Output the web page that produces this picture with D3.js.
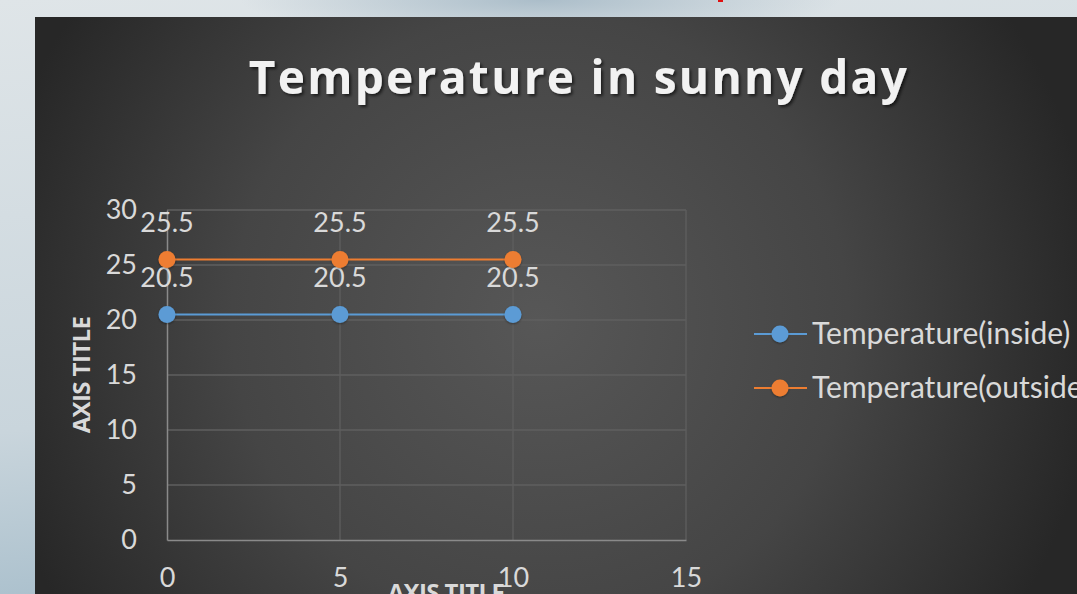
<!DOCTYPE html>
<html>
<head>
<meta charset="utf-8">
<script src="https://cdn.jsdelivr.net/npm/d3@7"></script>
<style>
  html, body { margin: 0; padding: 0; background: #dde3e6; overflow: hidden; }
  svg { display: block; }
</style>
</head>
<body>
<svg id="chart" width="1077" height="594"></svg>
<script>
// Data
const xValues = [0, 5, 10];
const insideTemps = [20.5, 20.5, 20.5];
const outsideTemps = [25.5, 25.5, 25.5];
const seriesNames = ["Temperature(inside)", "Temperature(outside)"];
const seriesColors = ["#5b9bd5", "#ed7d31"];
const xTicks = [0, 5, 10, 15];
const yTicks = [0, 5, 10, 15, 20, 25, 30];
const chartTitle = "Temperature in sunny day";
const xAxisTitle = "AXIS TITLE";
const yAxisTitle = "AXIS TITLE";

const svg = d3.select("#chart");
const defs = svg.append("defs");

// Backdrop behind the chart panel
const bg = defs.append("linearGradient").attr("id", "backdrop")
  .attr("x1", 0).attr("y1", 0).attr("x2", 0.2).attr("y2", 1);
bg.append("stop").attr("offset", "0%").attr("stop-color", "#dfe5e8");
bg.append("stop").attr("offset", "70%").attr("stop-color", "#c9d5dc");
bg.append("stop").attr("offset", "100%").attr("stop-color", "#a9bfcc");
svg.append("rect").attr("width", 1077).attr("height", 594).attr("fill", "url(#backdrop)");

const haze = defs.append("radialGradient").attr("id", "haze")
  .attr("cx", 0.5).attr("cy", 0.5).attr("r", 0.5);
haze.append("stop").attr("offset", "0%").attr("stop-color", "#9fb4c2").attr("stop-opacity", 0.8);
haze.append("stop").attr("offset", "100%").attr("stop-color", "#9fb4c2").attr("stop-opacity", 0);
svg.append("ellipse").attr("cx", 540).attr("cy", 0).attr("rx", 300).attr("ry", 40).attr("fill", "url(#haze)");
svg.append("rect").attr("x", 718).attr("y", 0).attr("width", 5).attr("height", 2).attr("fill", "#e01010");

// Chart panel with soft radial lighting
const panelGrad = defs.append("radialGradient").attr("id", "panel")
  .attr("gradientUnits", "userSpaceOnUse")
  .attr("cx", 540).attr("cy", 320).attr("r", 560);
panelGrad.append("stop").attr("offset", "0%").attr("stop-color", "#575757");
panelGrad.append("stop").attr("offset", "55%").attr("stop-color", "#454545");
panelGrad.append("stop").attr("offset", "100%").attr("stop-color", "#272727");
svg.append("rect").attr("x", 35).attr("y", 17).attr("width", 1042).attr("height", 577)
  .attr("fill", "url(#panel)");

// Plot area
const plot = { left: 167, right: 686, top: 210, bottom: 540 };
const x = d3.scaleLinear().domain([0, 15]).range([plot.left, plot.right]);
const y = d3.scaleLinear().domain([0, 30]).range([plot.bottom, plot.top]);

const font = "Lato, 'Open Sans', sans-serif";
const textColor = "#d9d9d9";

// Gridlines
const grid = svg.append("g");
grid.selectAll("line.h").data(yTicks.filter(d => d > 0)).join("line")
  .attr("x1", plot.left).attr("x2", plot.right)
  .attr("y1", d => y(d)).attr("y2", d => y(d))
  .attr("stroke", "#5f5f5f").attr("stroke-width", 1.3);
grid.selectAll("line.v").data(xTicks.filter(d => d > 0)).join("line")
  .attr("y1", plot.top).attr("y2", plot.bottom)
  .attr("x1", d => x(d)).attr("x2", d => x(d))
  .attr("stroke", "#5f5f5f").attr("stroke-width", 1.3);

// Axes
const yAxis = d3.axisLeft(y).tickValues(yTicks).tickSize(0).tickPadding(30);
const yG = svg.append("g").attr("transform", `translate(${plot.left},0)`).call(yAxis);
yG.select(".domain").attr("stroke", "#8a8a8a").attr("stroke-width", 1.5);
yG.selectAll("text").attr("fill", textColor).attr("font-family", font).attr("font-size", 27)
  .attr("dy", "0.3em");

const xAxis = d3.axisBottom(x).tickValues(xTicks).tickSize(0).tickPadding(28);
const xG = svg.append("g").attr("transform", `translate(0,${plot.bottom})`).call(xAxis);
xG.select(".domain").attr("stroke", "#8a8a8a").attr("stroke-width", 1.5);
xG.selectAll("text").attr("fill", textColor).attr("font-family", font).attr("font-size", 27);

// Series
const series = [insideTemps, outsideTemps].map((vals, i) => ({
  name: seriesNames[i], color: seriesColors[i],
  points: xValues.map((xv, j) => ({ x: xv, y: vals[j] }))
}));
const line = d3.line().x(d => x(d.x)).y(d => y(d.y));

const shadow = defs.append("filter").attr("id", "mshadow")
  .attr("x", "-50%").attr("y", "-50%").attr("width", "200%").attr("height", "200%");
shadow.append("feDropShadow").attr("dx", 0).attr("dy", 1).attr("stdDeviation", 1)
  .attr("flood-color", "#000").attr("flood-opacity", 0.4);

series.forEach(s => {
  svg.append("path").datum(s.points).attr("d", line)
    .attr("fill", "none").attr("stroke", s.color).attr("stroke-width", 2.2);
  svg.selectAll(null).data(s.points).join("circle")
    .attr("cx", d => x(d.x)).attr("cy", d => y(d.y)).attr("r", 8.5)
    .attr("fill", s.color).attr("filter", "url(#mshadow)");
  svg.selectAll(null).data(s.points).join("text")
    .attr("x", d => x(d.x)).attr("y", d => y(d.y) - 28)
    .attr("text-anchor", "middle")
    .attr("fill", textColor).attr("font-family", font).attr("font-size", 27)
    .text(d => d.y);
});

// Title
const tshadow = defs.append("filter").attr("id", "tshadow")
  .attr("x", "-10%").attr("y", "-30%").attr("width", "120%").attr("height", "160%");
tshadow.append("feDropShadow").attr("dx", 2).attr("dy", 2).attr("stdDeviation", 1.5)
  .attr("flood-color", "#000").attr("flood-opacity", 0.6);
svg.append("text").attr("x", 579).attr("y", 94).attr("text-anchor", "middle")
  .attr("fill", "#f2f2f2").attr("font-family", "'Open Sans', sans-serif").attr("font-weight", "bold")
  .attr("font-size", 46).attr("letter-spacing", 2.3).attr("filter", "url(#tshadow)")
  .text(chartTitle);

// Axis titles
svg.append("text").attr("transform", `translate(90,375) rotate(-90)`)
  .attr("text-anchor", "middle").attr("fill", textColor)
  .attr("font-family", "'Open Sans', sans-serif").attr("font-weight", "bold").attr("font-size", 24)
  .attr("letter-spacing", -0.6)
  .text(yAxisTitle);
svg.append("text").attr("x", 446).attr("y", 601).attr("text-anchor", "middle").attr("fill", textColor)
  .attr("font-family", "'Open Sans', sans-serif").attr("font-weight", "bold").attr("font-size", 24)
  .attr("letter-spacing", -0.6)
  .text(xAxisTitle);

// Legend
const legend = svg.append("g");
series.forEach((s, i) => {
  const cy = 334 + i * 54;
  legend.append("line").attr("x1", 754).attr("x2", 807).attr("y1", cy).attr("y2", cy)
    .attr("stroke", s.color).attr("stroke-width", 2.2);
  legend.append("circle").attr("cx", 780).attr("cy", cy).attr("r", 8.5).attr("fill", s.color)
    .attr("filter", "url(#mshadow)");
  legend.append("text").attr("x", 812).attr("y", cy + 10).attr("fill", textColor)
    .attr("font-family", font).attr("font-size", 30).text(s.name);
});
</script>
</body>
</html>
